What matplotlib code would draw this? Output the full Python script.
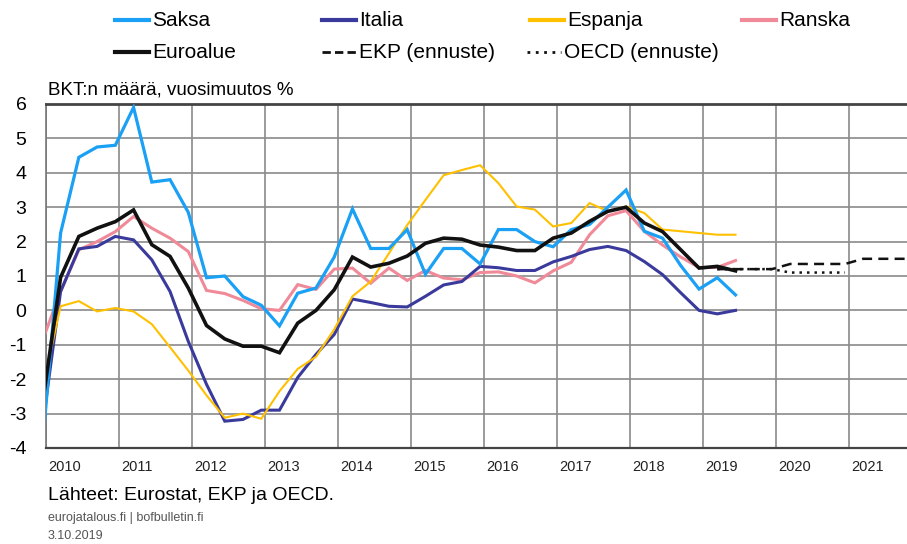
import numpy as np
import matplotlib
matplotlib.use("Agg")
from matplotlib import pyplot as plt
from matplotlib.lines import Line2D

plt.rcParams['font.family'] = ['Liberation Sans Narrow', 'Liberation Sans', 'DejaVu Sans']
plt.rcParams['axes.unicode_minus'] = False

# quarterly yoy GDP growth, 2009Q4 .. 2019Q2 (first point clipped by the axis)
first_year, first_quarter = 2009, 4
saksa = [-4.0,
         2.25, 4.45, 4.75, 4.8,
         5.9, 3.73, 3.8, 2.85,
         0.95, 1.0, 0.4, 0.15,
         -0.45, 0.5, 0.65, 1.55,
         2.95, 1.8, 1.8, 2.35,
         1.05, 1.8, 1.8, 1.35,
         2.35, 2.35, 2.0, 1.85,
         2.35, 2.5, 3.0, 3.5,
         2.3, 2.1, 1.3, 0.62,
         0.95, 0.45]
italia = [-3.39,
          0.55, 1.79, 1.86, 2.15,
          2.05, 1.47, 0.55, -0.9,
          -2.15, -3.22, -3.17, -2.9,
          -2.9, -1.95, -1.28, -0.7,
          0.33, 0.23, 0.12, 0.1,
          0.41, 0.74, 0.84, 1.28,
          1.24, 1.16, 1.16, 1.41,
          1.57, 1.77, 1.86, 1.74,
          1.42, 1.04, 0.51, 0.0,
          -0.1, 0.0]
espanja = [-2.28,
           0.12, 0.27, -0.03, 0.07,
           -0.03, -0.4, -1.07, -1.75,
           -2.47, -3.12, -3.0, -3.15,
           -2.35, -1.7, -1.35, -0.55,
           0.41, 0.84, 1.66, 2.48,
           3.21, 3.93, 4.08, 4.22,
           3.7, 3.02, 2.93, 2.44,
           2.54, 3.12, 2.88, 3.02,
           2.83, 2.35, 2.3, 2.25,
           2.2, 2.2]
ranska = [-0.89,
          0.55, 1.76, 2.0, 2.29,
          2.73, 2.39, 2.1, 1.71,
          0.58, 0.49, 0.29, 0.05,
          0.0, 0.75, 0.61, 1.2,
          1.23, 0.79, 1.23, 0.87,
          1.16, 0.94, 0.89, 1.1,
          1.12, 1.0, 0.8, 1.15,
          1.4, 2.2, 2.75, 2.9,
          2.3, 1.9, 1.55, 1.25,
          1.25, 1.45]
euroalue = [-2.74,
            0.96, 2.15, 2.39, 2.58,
            2.92, 1.91, 1.57, 0.65,
            -0.44, -0.83, -1.04, -1.04,
            -1.23, -0.37, 0.0, 0.6,
            1.55, 1.26, 1.37, 1.58,
            1.95, 2.1, 2.07, 1.9,
            1.84, 1.74, 1.74, 2.1,
            2.25, 2.59, 2.88, 3.0,
            2.54, 2.29, 1.76, 1.23,
            1.28, 1.15]

# forecasts, 2019Q1 ..
ekp_start = (2019, 1)
ekp = [1.2, 1.2, 1.2, 1.2, 1.35, 1.35, 1.35, 1.35, 1.5, 1.5, 1.5, 1.5]
oecd_start = (2019, 1)
oecd = [1.2, 1.2, 1.2, 1.2, 1.1, 1.1, 1.1, 1.1]

years = list(range(2010, 2022))


def qx(year, quarter, n):
    # quarter value plotted near the end of the quarter
    idx = np.arange(n) + (quarter - 1)
    return year + idx / 4 + 0.2


fig = plt.figure(figsize=(9.07, 5.44), dpi=100)
ax = fig.add_axes([46 / 907, 1 - 448 / 544, 1 - 46 / 907, (448 - 104) / 544])

x_hist = qx(first_year, first_quarter, len(saksa))
series = [
    ("Ranska", ranska, "#f08a98", 2.2),
    ("Italia", italia, "#3a3a9c", 2.2),
    ("Espanja", espanja, "#ffc000", 1.5),
    ("Saksa", saksa, "#1aa0f5", 2.3),
    ("Euroalue", euroalue, "#111111", 2.6),
]
for name, vals, col, lw in series:
    ax.plot(x_hist, vals, color=col, lw=lw, solid_joinstyle='miter', zorder=3)

ax.plot(qx(*ekp_start, len(ekp)), ekp, color="#111111", lw=1.8, ls=(0, (4, 2.5)), zorder=3)
ax.plot(qx(*oecd_start, len(oecd)), oecd, color="#111111", lw=1.8, ls=(0, (1, 2)), zorder=3)

ax.set_xlim(2010, 2021.8)
ax.set_ylim(-4, 6)
ax.set_xticks(years)
ax.set_xticklabels([])
ax.set_yticks(range(-4, 7))
ax.tick_params(axis='both', length=0)
ax.tick_params(axis='y', labelsize=14, pad=14)
for lab in ax.get_yticklabels():
    lab.set_family(['Liberation Sans', 'DejaVu Sans'])
ax.grid(True, color='#8a8a8a', lw=1.2)
ax.set_axisbelow(True)
for yr in years:
    ax.text(yr + 0.03, -0.055, str(yr), transform=ax.get_xaxis_transform(),
            ha='left', va='center', fontsize=10.5, color='#222222')
ax.spines['right'].set_visible(False)
ax.spines['top'].set_color('#444444')
ax.spines['top'].set_linewidth(2)
ax.spines['bottom'].set_color('#444444')
ax.spines['bottom'].set_linewidth(1.6)
ax.spines['left'].set_color('#777777')
ax.spines['left'].set_linewidth(1.2)

# legend
legend_items = [
    ("Saksa", "#1aa0f5", '-', 115, 20),
    ("Italia", "#3a3a9c", '-', 322, 20),
    ("Espanja", "#ffc000", '-', 530, 20),
    ("Ranska", "#f08a98", '-', 742, 20),
    ("Euroalue", "#111111", '-', 115, 52),
    ("EKP (ennuste)", "#111111", (0, (3, 1.5)), 322, 52),
    ("OECD (ennuste)", "#111111", (0, (1, 2)), 527, 52),
]
for label, col, ls, px, py in legend_items:
    yy = 1 - py / 544
    fig.add_artist(Line2D([px / 907, (px + 34) / 907], [yy, yy], color=col,
                          lw=3 if ls == '-' else 2, ls=ls))
    fig.text((px + 37) / 907, yy, label, fontsize=15, va='center', ha='left')

fig.text(48 / 907, 1 - 90 / 544, "BKT:n määrä, vuosimuutos %", fontsize=13.5,
         va='center', ha='left')
fig.text(48 / 907, 1 - 496 / 544, "Lähteet: Eurostat, EKP ja OECD.", fontsize=14,
         va='center', ha='left')
fig.text(48 / 907, 1 - 518 / 544, "eurojatalous.fi | bofbulletin.fi", fontsize=9,
         va='center', ha='left', color='#555555')
fig.text(48 / 907, 1 - 536 / 544, "3.10.2019", fontsize=9,
         va='center', ha='left', color='#555555')

fig.savefig("out.png", dpi=100)
